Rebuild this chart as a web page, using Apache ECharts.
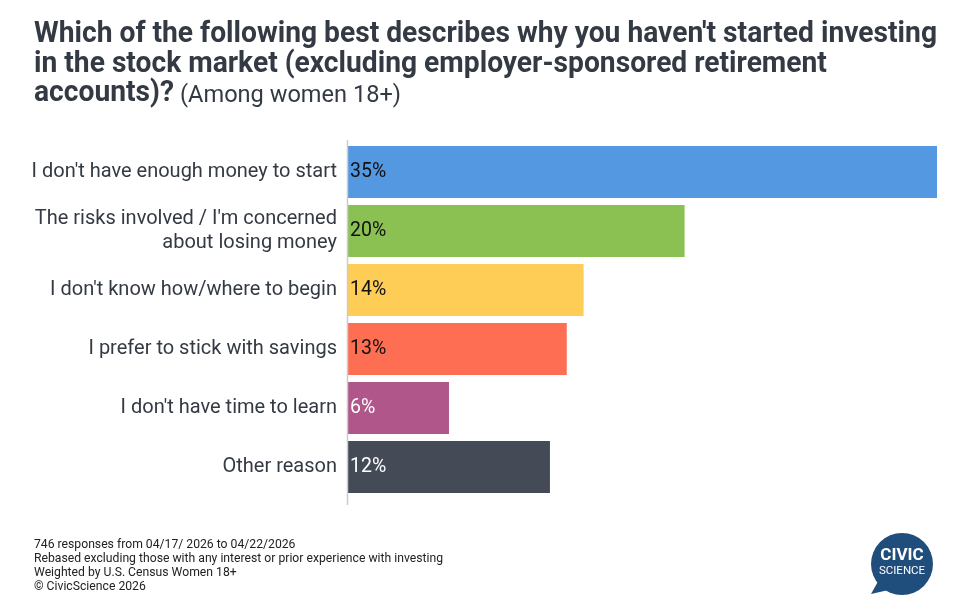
<!DOCTYPE html>
<html><head><meta charset="utf-8">
<script src="https://cdn.jsdelivr.net/npm/echarts@6/dist/echarts.min.js"></script>
<style>html,body{margin:0;padding:0;background:#fff}#c{width:966px;height:611px}</style>
</head><body><div id="c"></div>
<script>
const titleLines = [
  "Which of the following best describes why you haven't started investing",
  "in the stock market (excluding employer-sponsored retirement",
  "accounts)?"
];
const subtitle = "(Among women 18+)";
const categories = [
  "I don't have enough money to start",
  "The risks involved / I'm concerned\nabout losing money",
  "I don't know how/where to begin",
  "I prefer to stick with savings",
  "I don't have time to learn",
  "Other reason"
];
const values = [35, 20, 14, 13, 6, 12];
const colors = ["#5598e2", "#8bc152", "#fecd56", "#fe6e52", "#b0568a", "#454b56"];
const labelColors = ["#111", "#111", "#111", "#111", "#fff", "#fff"];
const footerLines = [
  "746 responses from 04/17/ 2026 to 04/22/2026",
  "Rebased excluding those with any interest or prior experience with investing",
  "Weighted by U.S. Census Women 18+",
  "\u00a9 CivicScience 2026"
];

const ctx = document.createElement('canvas').getContext('2d');
function w(text, font) { ctx.font = font; return ctx.measureText(text).width; }
const bFont = 'bold 29px Roboto';
const nFont = 'normal 24px Roboto';
const sB = 903 / w(titleLines[0], bFont);
const sN = 221 / w(subtitle, nFont);
const line3End = 34 + sB * w(titleLines[2], bFont);

const titleGraphics = titleLines.map((t, i) => ({
  type: 'text', x: 34, y: 34.5 + i * 29.8, scaleX: sB,
  style: {text: t, fontFamily: 'Roboto', fontWeight: 'bold', fontSize: 29, fill: '#343a44', verticalAlign: 'middle'}
}));
titleGraphics.push({
  type: 'text', x: line3End + 6, y: 34.5 + 2 * 29.8 + 1.5, scaleX: sN,
  style: {text: subtitle, fontFamily: 'Roboto', fontSize: 24, fill: '#343a44', verticalAlign: 'middle'}
});

const chart = echarts.init(document.getElementById('c'), null, {renderer: 'canvas'});
chart.setOption({
  animation: false,
  backgroundColor: '#fff',
  grid: {left: 348, right: 29, top: 142.5, bottom: 114.5, containLabel: false},
  xAxis: {type: 'value', min: 0, max: 35, show: false},
  yAxis: {
    type: 'category', inverse: true, data: categories,
    axisLine: {show: false}, axisTick: {show: false},
    axisLabel: {fontFamily: 'Roboto', fontSize: 20, color: '#343a44', margin: 11, align: 'right', lineHeight: 24.5}
  },
  series: [{
    type: 'bar', barCategoryGap: '12%',
    data: values.map((v, i) => ({value: v, itemStyle: {color: colors[i]},
      label: {color: labelColors[i]}})),
    label: {show: true, position: 'insideLeft', offset: [-3, 0], fontFamily: 'Roboto', fontSize: 19.5,
      formatter: p => p.value + '%'}
  }],
  graphic: titleGraphics.concat([
    {type: 'line', shape: {x1: 347.5, y1: 140, x2: 347.5, y2: 505}, style: {stroke: '#cccccc', lineWidth: 1.5}, z: 10},
    {type: 'text', left: 34, top: 538, style: {text: footerLines.join('\n'), fontFamily: 'Roboto', fontSize: 12.2, lineHeight: 14, fill: '#222'}},
    {type: 'group', children: [
      {type: 'polygon', shape: {points: [[880, 578], [871, 594], [893, 589]]}, style: {fill: '#1f4e7c'}},
      {type: 'circle', shape: {cx: 902, cy: 564, r: 31}, style: {fill: '#1f4e7c'}},
      {type: 'text', style: {x: 902, y: 556, text: 'CIVIC', align: 'center', verticalAlign: 'middle', fontFamily: 'Roboto', fontWeight: 'bold', fontSize: 17, fill: '#fff'}},
      {type: 'text', style: {x: 902, y: 571, text: 'SCIENCE', align: 'center', verticalAlign: 'middle', fontFamily: 'Roboto', fontSize: 11.5, fill: '#fff'}}
    ]}
  ])
});
</script></body></html>
